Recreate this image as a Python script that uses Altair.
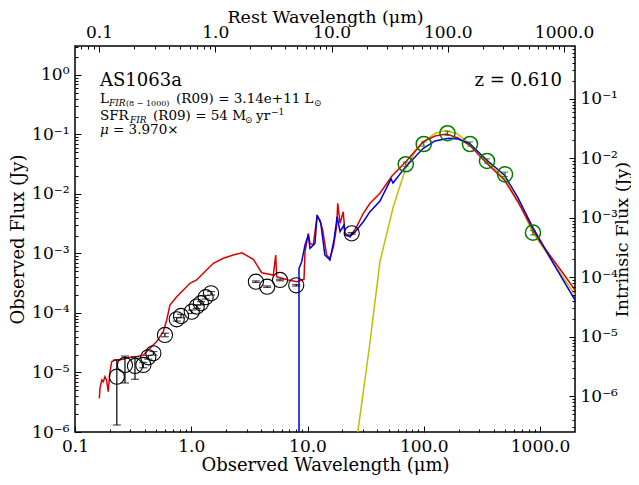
import altair as alt
import pandas as pd
import math

Z = 0.610
MU = 3.970

# ---- model curves (observed wavelength [um], observed flux [Jy]) ----
red_wl = [0.162, 0.164, 0.170, 0.175, 0.181, 0.187, 0.193, 0.200, 0.207, 0.221, 0.260, 0.297, 0.340, 0.387,
          0.427, 0.504, 0.575, 0.615, 0.656, 0.750, 0.855, 0.975, 1.114, 1.27, 1.55, 1.89, 2.30, 2.63,
          2.72, 3.42, 4.04, 5.08, 5.33, 5.43, 6.84, 8.07, 9.33, 9.52, 10.16, 10.5, 11.2, 12.1, 12.8, 13.5,
          14.6, 15.6, 16.7, 17.8, 18.2, 19.05, 20.3, 21.0, 23.2, 26.5, 30.2, 34.5, 42.0, 53.3, 70.0, 99.1,
          125, 157, 197, 247, 348, 493, 647, 859, 1000, 1301, 1641, 2000]
red_fx = [3.68e-6, 5.42e-6, 7.48e-6, 7.0e-6, 8.5e-6, 7.48e-6, 4.75e-6, 1.03e-5, 1.52e-5, 1.62e-5, 1.67e-5,
          1.80e-5, 1.84e-5, 1.97e-5, 2.39e-5, 3.30e-5, 4.85e-5, 7.62e-5, 1.36e-4, 1.88e-4, 2.44e-4, 3.16e-4,
          3.59e-4, 4.65e-4, 6.84e-4, 8.30e-4, 9.44e-4, 1.01e-3,
          1.03e-3, 8.0e-4, 4.75e-4, 4.35e-4, 9.44e-4, 4.07e-4, 3.59e-4, 3.36e-4, 3.68e-4, 1.07e-3, 2.18e-3,
          1.48e-3, 1.39e-3, 4.27e-3, 3.66e-3, 2.48e-3, 9.44e-4, 8.30e-4, 1.30e-3, 2.82e-3, 6.98e-3, 3.22e-3,
          5.04e-3, 2.18e-3, 1.92e-3, 2.82e-3, 4.74e-3, 6.98e-3, 1.03e-2, 2.01e-2, 3.49e-2, 7.57e-2, 9.44e-2,
          0.102, 8.73e-2, 6.66e-2, 3.28e-2, 1.72e-2, 7.34e-3, 2.65e-3, 1.58e-3, 7.78e-4, 4.19e-4, 2.44e-4]

blue_wl = [8.45, 8.45, 8.91, 9.52, 10.16, 10.5, 11.6, 12.1, 13.0, 14.1, 15.6, 16.9, 18.0, 19.05, 20.6, 21.0,
           23.2, 26.5, 30.2, 34.5, 42.0, 49.3, 52.3, 54.4, 70.0, 99.1, 125, 163, 197, 247, 348, 493, 647,
           859, 1000, 1301, 2000]
blue_fx = [1e-8, 5.64e-4, 7.28e-4, 1.39e-3, 2.05e-3, 1.22e-3, 1.48e-3, 4.44e-3, 3.22e-3, 9.44e-4, 7.78e-4,
           1.69e-3, 4.15e-3, 2.32e-3, 3.01e-3, 2.05e-3, 1.92e-3, 2.48e-3, 3.42e-3, 5.04e-3, 7.6e-3, 1.42e-2,
           1.79e-2, 1.53e-2, 2.88e-2, 5.86e-2, 7.78e-2, 8.63e-2, 8.40e-2, 7.11e-2, 3.73e-2, 2.09e-2, 8.57e-3,
           2.82e-3, 1.69e-3, 6.84e-4, 1.65e-4]

yel_wl = [23.8, 27.0, 33.8, 42.0, 54.7, 70.0, 84.1, 99.1, 125, 152, 193, 247, 348, 493, 647, 859, 1219, 2000]
yel_fx = [1.56e-7, 9.6e-7, 2.39e-5, 7.28e-4, 6.12e-3, 2.70e-2, 5.08e-2, 7.57e-2, 0.104, 0.116, 0.104,
          7.11e-2, 3.49e-2, 1.84e-2, 7.62e-3, 2.32e-3, 8.40e-4, 2.01e-4]

# ---- photometry ----
opt_wl = [0.229, 0.269, 0.328, 0.387, 0.427, 0.472, 0.594, 0.750, 0.817, 1.01, 1.114, 1.21, 1.33, 1.48,
          3.6, 4.5, 5.8, 8.0, 24.0]
opt_fx = [8.5e-6, 1.34e-5, 1.29e-5, 1.34e-5, 1.80e-5, 2.10e-5, 4.27e-5, 7.83e-5, 8.91e-5, 1.05e-4, 1.28e-4,
          1.46e-4, 1.84e-4, 2.14e-4, 3.36e-4, 2.77e-4, 3.59e-4, 2.92e-4, 2.18e-3]
opt_lo = [1.31e-6, 6.67e-6, 7.69e-6, 1.2e-5, 1.68e-5, 1.96e-5, 3.98e-5, 7.3e-5, 8.3e-5, 9.8e-5, 1.19e-4,
          1.36e-4, 1.72e-4, 2.0e-4, 3.26e-4, 2.69e-4, 3.48e-4, 2.83e-4, 2.11e-3]
opt_hi = [1.62e-5, 1.89e-5, 1.84e-5, 1.48e-5, 1.93e-5, 2.25e-5, 4.57e-5, 8.4e-5, 9.5e-5, 1.12e-4, 1.37e-4,
          1.56e-4, 1.97e-4, 2.29e-4, 3.46e-4, 2.85e-4, 3.70e-4, 3.01e-4, 2.25e-3]

fir_wl = [70, 100, 160, 250, 350, 500, 870]
fir_fx = [3.16e-2, 6.92e-2, 0.105, 6.92e-2, 3.59e-2, 2.14e-2, 2.24e-3]
fir_lo = [2.9e-2, 6.35e-2, 9.65e-2, 6.35e-2, 3.3e-2, 1.96e-2, 2.05e-3]
fir_hi = [3.44e-2, 7.5e-2, 0.114, 7.5e-2, 3.9e-2, 2.33e-2, 2.43e-3]

X_DOM = [0.1, 2000.0]
Y_DOM = [1.0e-6, 3.07]
REST_DOM = [X_DOM[0] / (1 + Z), X_DOM[1] / (1 + Z)]
INTR_DOM = [Y_DOM[0] / MU, Y_DOM[1] / MU]

FONT = "DejaVu Serif"


def lscale(dom):
    return alt.Scale(type="log", domain=dom, nice=False)


def ticks(dom):
    lo, hi = dom
    major = [10.0 ** e for e in range(-8, 5) if lo * 0.999 <= 10.0 ** e <= hi * 1.001]
    minor = [k * 10.0 ** e for e in range(-8, 5) for k in range(2, 10) if lo < k * 10.0 ** e < hi * 0.999]
    return major, minor


SUP = {"0": "⁰", "1": "¹", "2": "²", "3": "³", "4": "⁴", "5": "⁵", "6": "⁶", "7": "⁷", "8": "⁸", "9": "⁹", "-": "⁻"}


def pow_expr(values):
    parts = []
    for v in values:
        e = int(round(math.log10(v)))
        s = "".join(SUP[c] for c in str(e))
        parts.append(f"abs(log(datum.value)/LN10 - ({e})) < 0.01 ? '10{s}'")
    return " : ".join(parts) + " : ''"


xmaj, xmin = ticks(X_DOM)
ymaj, ymin = ticks(Y_DOM)
rmaj, rmin = ticks(REST_DOM)
imaj, imin = ticks(INTR_DOM)

common = dict(domain=False, grid=False, labelFont=FONT, labelFontSize=17, labelColor="black",
              tickColor="black", tickWidth=1, titleFont=FONT, titleFontWeight="normal",
              titleColor="black", labelFlush=False, labelOverlap=False, zindex=1)

dummy = pd.DataFrame({"a": [1.0], "b": [1e-3]})


def axis_layer(xdom, xaxis, ydom, yaxis):
    return alt.Chart(dummy).mark_point(opacity=0).encode(
        x=alt.X("a:Q", scale=lscale(xdom), axis=xaxis),
        y=alt.Y("b:Q", scale=lscale(ydom), axis=yaxis),
    )


axA = axis_layer(
    X_DOM,
    alt.Axis(orient="bottom", values=xmaj, format=".1f", tickSize=6, offset=-6, labelPadding=6,
             title="Observed Wavelength (μm)", titleFontSize=18, titlePadding=2, **common),
    Y_DOM,
    alt.Axis(orient="left", values=ymaj, labelExpr=pow_expr(ymaj), tickSize=6, offset=-6, labelPadding=6,
             title="Observed Flux (Jy)", titleFontSize=18, titlePadding=4, **common),
)
axB = axis_layer(
    X_DOM, alt.Axis(orient="bottom", values=xmin, tickSize=3, offset=-3, labels=False, title=None, **common),
    Y_DOM, alt.Axis(orient="left", values=ymin, tickSize=3, offset=-3, labels=False, title=None, **common),
)
axC = axis_layer(
    REST_DOM,
    alt.Axis(orient="top", values=rmaj, format=".1f", tickSize=6, offset=-6, labelPadding=5,
             title="Rest Wavelength (μm)", titleFontSize=17.5, titlePadding=-3, **common),
    INTR_DOM,
    alt.Axis(orient="right", values=imaj, labelExpr=pow_expr(imaj), tickSize=6, offset=-6, labelPadding=5,
             title="Intrinsic Flux (Jy)", titleFontSize=17.5, titleAngle=270, titleBaseline="top",
             titlePadding=-4, **common),
)
axD = axis_layer(
    REST_DOM, alt.Axis(orient="top", values=rmin, tickSize=3, offset=-3, labels=False, title=None, **common),
    INTR_DOM, alt.Axis(orient="right", values=imin, tickSize=3, offset=-3, labels=False, title=None, **common),
)


def curve(wl, fx, color):
    df = pd.DataFrame({"wl": wl, "fx": fx, "i": list(range(len(wl)))})
    return alt.Chart(df).mark_line(color=color, strokeWidth=1.5, clip=True).encode(
        x=alt.X("wl:Q", scale=lscale(X_DOM), axis=None),
        y=alt.Y("fx:Q", scale=lscale(Y_DOM), axis=None),
        order="i:Q",
    )


def photometry(wl, fx, lo, hi, color, capw, sw):
    df = pd.DataFrame({"wl": wl, "fx": fx, "lo": lo, "hi": hi})
    base = alt.Chart(df).encode(x=alt.X("wl:Q", scale=lscale(X_DOM), axis=None))
    rule = base.mark_rule(color=color, strokeWidth=1.2).encode(
        y=alt.Y("lo:Q", scale=lscale(Y_DOM), axis=None), y2="hi:Q")
    cap_lo = base.mark_tick(orient="horizontal", color=color, size=capw, thickness=1.2).encode(
        y=alt.Y("lo:Q", scale=lscale(Y_DOM), axis=None))
    cap_hi = base.mark_tick(orient="horizontal", color=color, size=capw, thickness=1.2).encode(
        y=alt.Y("hi:Q", scale=lscale(Y_DOM), axis=None))
    circ = base.mark_point(shape="circle", filled=False, size=230, strokeWidth=sw, color=color,
                           opacity=1).encode(y=alt.Y("fx:Q", scale=lscale(Y_DOM), axis=None))
    return [rule, cap_lo, cap_hi, circ]


def txt(s, x, y, size, style="normal", align="left"):
    return alt.Chart(dummy).mark_text(text=s, font=FONT, fontSize=size, fontStyle=style, align=align,
                                      baseline="alphabetic", color="black").encode(
        x=alt.value(x), y=alt.value(y))


TS = 13.5
texts = [
    txt("AS1063a", 25, 40, 18),
    txt("L", 25, 57, TS),
    txt("FIR", 34, 60, 9, "italic"),
    txt("(8 − 1000)", 51, 60, 8),
    txt("(R09) = 3.14e+11 L", 101, 57, TS),
    txt("⊙", 239, 60, 9),
    txt("SFR", 25, 74, TS),
    txt("FIR", 55, 77, 9, "italic"),
    txt("(R09) = 54 M", 78, 74, TS),
    txt("⊙", 170, 77, 9),
    txt("yr", 181, 74, TS),
    txt("−1", 196, 69, 9),
    txt("μ", 25, 88, TS, "italic"),
    txt("= 3.970×", 38, 88, TS),
    txt("z = 0.610", 487, 40, 18, align="right"),
]

layers = [
    curve(yel_wl, yel_fx, "#bfbf00"),
    curve(red_wl, red_fx, "#dd0000"),
    curve(blue_wl, blue_fx, "#0000dd"),
]
layers += photometry(opt_wl, opt_fx, opt_lo, opt_hi, "black", 8, 1.1)
layers += photometry(fir_wl, fir_fx, fir_lo, fir_hi, "#007a00", 6, 1.5)
layers += texts
layers += [axA, axB, axC, axD]

chart = alt.layer(*layers).resolve_scale(
    x="independent", y="independent"
).resolve_axis(
    x="independent", y="independent"
).properties(
    width=500, height=386,
    autosize=alt.AutoSizeParams(type="none"),
    padding={"left": 67, "top": 38, "right": 56, "bottom": 44},
).configure_view(stroke="black", strokeWidth=1.5)

chart.save("out.html", embed_options={"renderer": "svg", "actions": False})
